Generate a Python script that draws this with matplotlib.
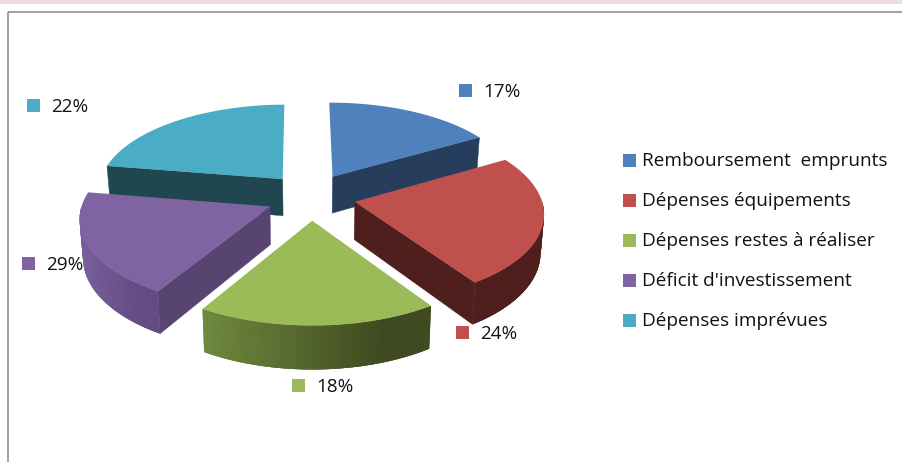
import numpy as np
import matplotlib
matplotlib.use("Agg")
import matplotlib.pyplot as plt
from matplotlib.collections import PolyCollection
from matplotlib.patches import Polygon, Rectangle

# ---- data ----
categories = ["Remboursement  emprunts", "Dépenses équipements",
              "Dépenses restes à réaliser", "Déficit d'investissement",
              "Dépenses imprévues"]
slice_values = [16.7, 24.0, 18.0, 19.0, 22.3]
data_labels = ["17%", "24%", "18%", "29%", "22%"]

# ---- styles ----
top_colors = ["#4F81BD", "#C0504D", "#9BBB59", "#8064A2", "#4BACC6"]
face_colors = ["#263E5C", "#4E1F1D", "#3F4B20", "#584470", "#20464F"]
wall_left = ["#263E5C", "#4E1F1D", "#6F8A3E", "#7A5F9C", "#20464F"]
wall_right = ["#263E5C", "#4E1F1D", "#3F4A20", "#624C82", "#20464F"]
label_pos = [(459, 84, 483), (456, 326, 480), (292, 379, 316), (22, 257, 46), (27, 99, 51)]
legend_y = [160, 200, 240, 280, 320]
FONT = "Open Sans"

CX, CY, RX, RY, K, EXPLODE_X, EXPLODE_Y, DEPTH = 311, 196.5, 186, 86.8, 0.115, 0.24, 0.27, 37.5
SHRINK = 0.015
START = np.deg2rad(-0.4)


def project(u, v, drop=0.0):
    s = 1 / (1 - K * v)
    return CX + RX * u * s * (1 - SHRINK * drop), CY + RY * v * s + drop * DEPTH * s


def mix(a, b, t):
    ca, cb = np.array(matplotlib.colors.to_rgb(a)), np.array(matplotlib.colors.to_rgb(b))
    return tuple(ca + (cb - ca) * min(1.0, t / 0.8))


fig = plt.figure(figsize=(9.02, 4.62), dpi=100)
ax = fig.add_axes([0, 0, 1, 1])
ax.set_xlim(0, 902)
ax.set_ylim(462, 0)
ax.axis("off")

ax.add_patch(Rectangle((0, 0), 902, 4, color="#F2DCDB", lw=0))
ax.plot([8, 8], [462, 11.5], color="#868686", lw=1.1, solid_capstyle="butt")
ax.plot([8, 902], [11.5, 11.5], color="#868686", lw=1.1, solid_capstyle="butt")

fractions = np.array(slice_values) / np.sum(slice_values)
edges = START + np.concatenate([[0], np.cumsum(fractions)]) * 2 * np.pi
order = [4, 0, 3, 1, 2]

for i in order:
    a0, a1 = edges[i], edges[i + 1]
    mid = (a0 + a1) / 2
    ou, ov = EXPLODE_X * np.sin(mid), -EXPLODE_Y * np.cos(mid)
    th = np.linspace(a0, a1, 120)
    us, vs = ou + np.sin(th), ov - np.cos(th)

    # radial side faces
    for ang, visible in ((a0, np.sin(a0) < -0.02), (a1, np.sin(a1) > 0.02)):
        if visible:
            eu, ev = ou + np.sin(ang), ov - np.cos(ang)
            pts = [project(ou, ov), project(eu, ev), project(eu, ev, 1), project(ou, ov, 1)]
            ax.add_patch(Polygon(pts, closed=True, fc=face_colors[i], ec=face_colors[i], lw=0.3))

    # outer wall, as overlapping quads so that no seams show
    mask = np.cos(th) < 0
    if mask.sum() > 1:
        tu, tv = us[mask], vs[mask]
        tx, ty = project(tu, tv)
        bx, by = project(tu, tv, 1)
        span = tx.max() - tx.min()
        n = len(tx)
        idx = range(n - 1) if wall_left[i] == wall_right[i] or tx[0] < tx[-1] else range(n - 2, -1, -1)
        quads, cols = [], []
        for j in idx:
            k = min(j + 2, n - 1)
            h = max(j - 1, 0)
            quads.append([(tx[h], ty[h]), (tx[k], ty[k]), (bx[k], by[k]), (bx[h], by[h])])
            cols.append(mix(wall_left[i], wall_right[i], (0.5 * (tx[j] + tx[j + 1]) - tx.min()) / span))
        ax.add_collection(PolyCollection(quads, facecolors=cols, edgecolors="none", linewidths=0))

    # top
    x, y = project(us, vs)
    ax_, ay_ = project(ou, ov)
    ax.add_patch(Polygon(np.column_stack([np.r_[ax_, x], np.r_[ay_, y]]), closed=True,
                         fc=top_colors[i], ec="none"))

for c, lab, (mx, my, tx) in zip(top_colors, data_labels, label_pos):
    ax.add_patch(Rectangle((mx, my), 13, 13, color=c, lw=0))
    ax.text(tx, my + 8.2, lab, family=FONT, fontsize=13.6, va="center", ha="left", color="#111111")

for c, name, y in zip(top_colors, categories, legend_y):
    ax.add_patch(Rectangle((623, y - 6.5), 13, 13, color=c, lw=0))
    ax.text(642, y + 1, name, family=FONT, fontsize=13.7, va="center", ha="left", color="#111111")

fig.savefig("out.png", dpi=100)
